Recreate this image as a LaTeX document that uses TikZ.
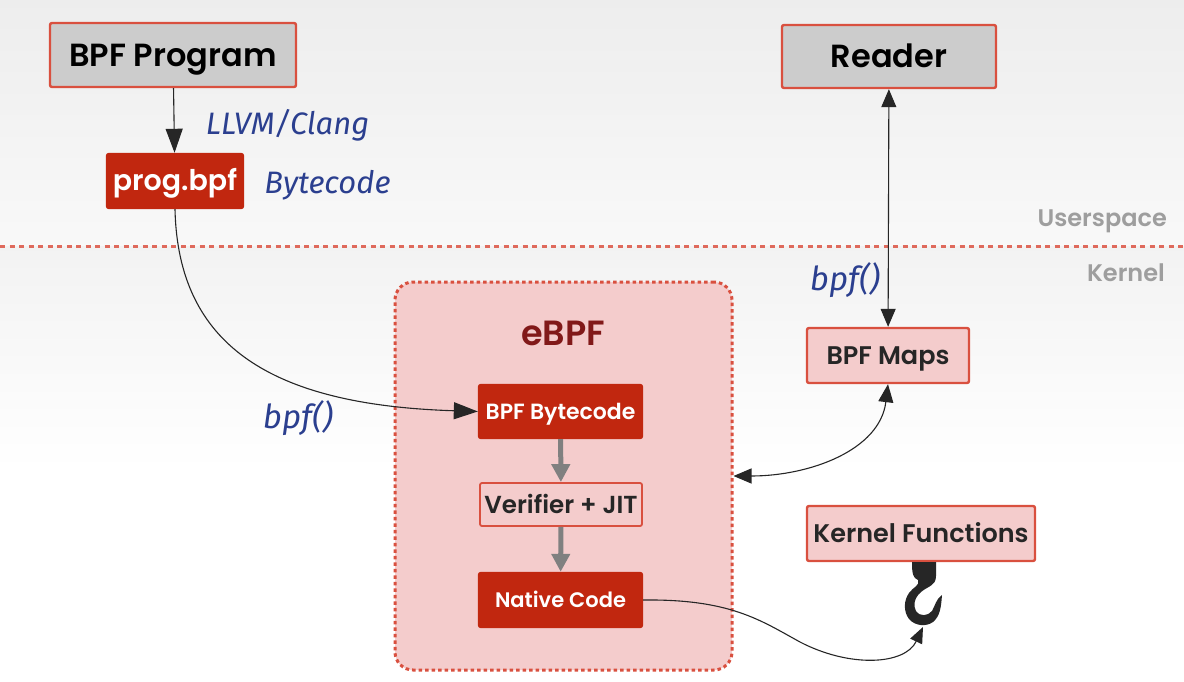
\documentclass[tikz,border=0pt]{standalone}
\usepackage{fontspec}
\setmainfont{Poppins}[BoldFont={Poppins SemiBold}]
\newfontfamily\handfont{Fira Sans}[ItalicFont={Fira Sans Italic}]
\usetikzlibrary{arrows.meta}
\definecolor{redline}{HTML}{D9503F}
\definecolor{redfill}{HTML}{C1270F}
\definecolor{pinkfill}{HTML}{F4CCCC}
\definecolor{hand}{HTML}{2B3F8F}
\tikzset{%
    sized/.style={font=\bfseries\fontsize{#1}{#1}\selectfont,text height=0.9*#1pt,text depth=0.2*#1pt},
    box/.style={draw=redline,line width=2.4pt,rounded corners=2pt,inner sep=0pt},
    greybox/.style={box,fill=black!20,sized=32},
    pinkbox/.style={box,fill=pinkfill,sized=25.5,text=black!85},
    solidbox/.style={box,draw=redfill,fill=redfill,text=white,sized=22},
    note/.style={text=hand,font=\handfont\itshape\fontsize{#1}{#1}\selectfont},
    note/.default=31,
    side/.style={text=black!38,font=\bfseries\fontsize{24}{28}\selectfont,anchor=east,inner sep=0pt},
    thin/.style={line width=1.1pt,black!85},
    bigtip/.style={-{Triangle[length=24pt,width=17pt]}},
    smalltip/.style={{Triangle[length=18pt,width=15pt]}-{Triangle[length=18pt,width=15pt]}},
    flow/.style={line width=5pt,black!50,-{Triangle[length=18pt,width=18pt]}}
}
\begin{document}
\begin{tikzpicture}[x=1pt,y=-1pt]
            \useasboundingbox (0,0) rectangle (1184,682);
            \fill[top color=black!7,bottom color=black!2.5] (0,0) rectangle (1184,246);
            \fill[top color=black!5,bottom color=white] (0,246) rectangle (1184,470);
            \draw[redline!85,line width=3pt,dash pattern=on 5pt off 4.5pt] (0,246) -- (1184,246);

            \node[draw=redline,line width=3pt,dash pattern=on 3.5pt off 3pt,rounded corners=18pt,fill=pinkfill,minimum width=337pt,minimum height=388pt] (ebpf) at (563.5,476){};
            \node[text=red!45!black!90,font=\bfseries\fontsize{35}{40}\selectfont] (ebpftitle) at (563,333){eBPF};

            \node[greybox,minimum width=246pt,minimum height=64pt] (program) at (173,55){BPF Program};
            \node[greybox,minimum width=214pt,minimum height=63pt] (reader) at (889,56.5){Reader};
            \node[solidbox,minimum width=136pt,minimum height=54pt,sized=28.5] (prog) at (175,181){prog.bpf};
            \node[solidbox,minimum width=163pt,minimum height=53pt] (bytecode) at (560.5,411.5){BPF Bytecode};
            \node[pinkbox,minimum width=162pt,minimum height=43pt,line width=1.8pt,sized=24.6] (verifier) at (561,504.5){Verifier + JIT};
            \node[solidbox,minimum width=163pt,minimum height=54pt,sized=21] (native) at (560.5,600){Native Code};
            \node[pinkbox,minimum width=162pt,minimum height=55pt] (maps) at (888,355.5){BPF Maps};
            \node[pinkbox,minimum width=228pt,minimum height=55pt] (functions) at (921,533.5){Kernel Functions};

            % hook under the functions box
            \fill[black!85] (912,562) -- (936,562) -- (936,576) .. controls (936,586) and (928,586) .. (921,592)
                .. controls (914,598) and (913,606) .. (916,611) .. controls (920,617) and (928,616) .. (932,611)
                .. controls (935,606) and (936,599) .. (942,595) .. controls (941,608) and (940,616) .. (933,622)
                .. controls (926,627) and (915,626) .. (909,619) .. controls (903,611) and (904,600) .. (909,593)
                .. controls (913,587) and (920,586) .. (918,580) .. controls (913,578) and (912,574) .. (912,562) -- cycle;
            \coordinate (hooktip) at (923,627);
            \coordinate (bend) at (800,642);

            \draw[thin,bigtip] (program) -- (prog);
            \draw[thin,bigtip] (prog.south) .. controls (178,345) and (270,405) .. (bytecode.west);
            \draw[thin,smalltip] (reader) -- (maps);
            \draw[thin,smalltip] (maps.south) .. controls (880,450) and (810,476) .. (ebpf.east);
            \draw[flow] (bytecode) -- (verifier);
            \draw[flow] (verifier) -- (native);
            \draw[thin] (native.east) .. controls (730,599) and (760,620) .. (bend);
            \draw[thin,-{Triangle[length=16pt,width=13pt]}] (bend) .. controls (850,668) and (905,665) .. (hooktip);

            \node[note] (llvm) at (287.5,125){LLVM/Clang};
            \node[note] (bc) at (327.5,185){Bytecode};
            \node[note=33] (bpfa) at (845,280){bpf()};
            \node[note=33] (bpfb) at (298,418){bpf()};
            \node[side] (user) at (1167,221){Userspace};
            \node[side] (kernel) at (1165,273){Kernel};
        \end{tikzpicture}
\end{document}
